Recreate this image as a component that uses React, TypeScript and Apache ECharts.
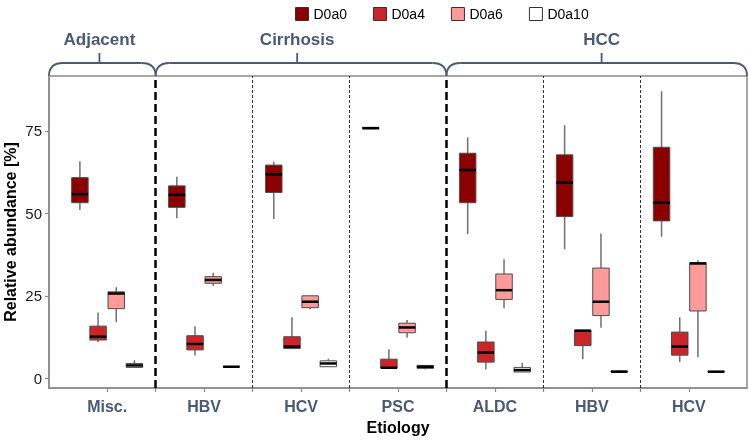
import React, { useEffect, useRef } from 'react';
import * as echarts from 'echarts';

// ---- data ----
const categories = ['Misc.', 'HBV', 'HCV', 'PSC', 'ALDC', 'HBV', 'HCV'];
const seriesNames = ['D0a0', 'D0a4', 'D0a6', 'D0a10'];
const seriesColors = ['#8B0000', '#CC2529', '#FF9A9A', '#FFFFFF'];

// each row: [min, q1, median, q3, max]
const d0a0 = [
  [51.0, 53.2, 55.8, 60.8, 65.8],
  [48.5, 51.8, 55.6, 58.3, 61.1],
  [48.3, 56.3, 61.8, 64.6, 65.6],
  [75.4, 75.6, 75.8, 76.0, 76.2],
  [43.7, 53.2, 63.1, 68.2, 73.0],
  [39.1, 49.0, 59.3, 67.7, 76.7],
  [42.9, 47.7, 53.2, 70.0, 87.0],
];
const d0a4 = [
  [10.9, 11.6, 12.6, 15.8, 19.9],
  [6.9, 8.6, 10.4, 12.9, 15.8],
  [9.0, 9.0, 9.6, 12.6, 18.5],
  [3.1, 3.1, 3.2, 5.8, 8.8],
  [2.7, 4.9, 7.8, 11.0, 14.4],
  [5.8, 9.9, 14.4, 14.6, 14.6],
  [4.9, 7.0, 9.6, 14.0, 18.5],
];
const d0a6 = [
  [17.0, 21.1, 25.7, 26.2, 27.6],
  [28.0, 28.8, 29.8, 30.8, 32.0],
  [20.9, 21.4, 23.2, 25.0, 25.2],
  [12.3, 13.8, 15.4, 16.7, 17.7],
  [21.2, 23.9, 26.7, 31.6, 36.1],
  [15.3, 19.0, 23.2, 33.4, 43.9],
  [6.4, 20.4, 34.8, 35.0, 35.8],
];
const d0a10 = [
  [3.3, 3.3, 3.9, 4.5, 5.5],
  [3.4, 3.4, 3.5, 3.6, 3.6],
  [3.5, 3.5, 4.5, 5.3, 5.9],
  [2.7, 3.0, 3.5, 3.9, 3.9],
  [1.9, 1.9, 2.5, 3.3, 4.7],
  [1.9, 1.9, 2.0, 2.2, 2.5],
  [1.9, 1.9, 2.0, 2.1, 2.1],
];
const yTicks = [0, 25, 50, 75];
const xMin = -0.6;
const xMax = 6.6;
const yMin = -2.94;
const yMax = 91.6;
const thickSeparators = [0.5, 3.5];
const thinSeparators = [1.5, 2.5, 4.5, 5.5];
const brackets = [
  { label: 'Adjacent', from: -0.6, to: 0.5, center: -0.08 },
  { label: 'Cirrhosis', from: 0.5, to: 3.5, center: 1.96 },
  { label: 'HCC', from: 3.5, to: 6.6, center: 5.1 },
];

// ---- style ----
const FONT = '"Liberation Sans", Arial, sans-serif';
const SLATE = '#4A5A75';
const AXIS_GRAY = '#8A8A8A';
const WHISKER = '#707070';
const BOX_STROKE = '#4D4D4D';
const SLOT = 0.1875;
const BOX_W = 0.17;
const GRID_TOP = 76;

export default function App() {
  const ref = useRef<HTMLDivElement>(null);
  useEffect(() => {
    document.body.style.margin = '0';
    const chart = echarts.init(ref.current!, null, { renderer: 'svg' });
    const allData = [d0a0, d0a4, d0a6, d0a10];
    const centerTicks = categories.map((_, i) => i);
    const allTicks = [...centerTicks, ...thickSeparators, ...thinSeparators].sort((a, b) => a - b);

    const series: any[] = allData.map((rows, si) => ({
      type: 'custom',
      name: seriesNames[si],
      itemStyle: { color: seriesColors[si] },
      encode: { x: 0, y: [1, 2, 3, 4, 5] },
      data: rows.map((r, ci) => [ci, ...r]),
      z: 3,
      renderItem: (params: any, api: any) => {
        const x = api.value(0) + (si - 1.5) * SLOT;
        const mn = api.value(1), q1 = api.value(2), md = api.value(3), q3 = api.value(4), mx = api.value(5);
        const c = (v: number) => api.coord([x, v]);
        const pMax = c(mx), pQ3 = c(q3), pMd = c(md), pQ1 = c(q1), pMin = c(mn);
        const hw = api.size([BOX_W, 0])[0] / 2;
        const cx = pMd[0];
        return {
          type: 'group',
          children: [
            { type: 'line', shape: { x1: cx, y1: pMax[1], x2: cx, y2: pQ3[1] }, style: { stroke: WHISKER, lineWidth: 1.5 } },
            { type: 'line', shape: { x1: cx, y1: pQ1[1], x2: cx, y2: pMin[1] }, style: { stroke: WHISKER, lineWidth: 1.5 } },
            {
              type: 'rect',
              shape: { x: cx - hw, y: pQ3[1], width: 2 * hw, height: Math.max(pQ1[1] - pQ3[1], 0.5) },
              style: { fill: seriesColors[si], stroke: BOX_STROKE, lineWidth: 1 },
            },
            { type: 'line', shape: { x1: cx - hw, y1: pMd[1], x2: cx + hw, y2: pMd[1] }, style: { stroke: '#000', lineWidth: 2.5 } },
          ],
        };
      },
    }));

    series[0].markLine = {
      silent: true,
      symbol: 'none',
      label: { show: false },
      animation: false,
      data: [
        ...thickSeparators.map((v) => ({ xAxis: v, lineStyle: { color: '#000', width: 2.5, type: [8, 4] } })),
        ...thinSeparators.map((v) => ({ xAxis: v, lineStyle: { color: '#333', width: 1, type: [3, 2] } })),
      ],
    };

    chart.setOption({
      animation: false,
      legend: {
        top: 2,
        left: 290,
        icon: 'rect',
        itemWidth: 13,
        itemHeight: 13,
        itemGap: 26,
        itemStyle: { borderColor: '#333', borderWidth: 1 },
        textStyle: { fontFamily: FONT, fontSize: 14, color: '#000' },
        data: seriesNames,
      },
      grid: {
        left: 49,
        right: 2,
        top: GRID_TOP,
        bottom: 55,
        show: true,
        borderColor: AXIS_GRAY,
        borderWidth: 1.5,
        containLabel: false,
        outerBoundsMode: 'none',
      },
      xAxis: {
        type: 'value',
        min: xMin,
        max: xMax,
        name: 'Etiology',
        nameLocation: 'middle',
        nameGap: 31,
        nameMoveOverlap: false,
        nameTextStyle: { fontFamily: FONT, fontSize: 16, fontWeight: 'bold', color: '#000' },
        axisLine: { show: true, onZero: false, lineStyle: { color: AXIS_GRAY, width: 1.5 } },
        axisTick: { show: true, length: 4, lineStyle: { color: AXIS_GRAY, width: 1.2 }, customValues: allTicks },
        axisLabel: {
          customValues: centerTicks,
          margin: 10,
          fontFamily: FONT,
          fontSize: 16,
          fontWeight: 'bold',
          color: SLATE,
          formatter: (v: number) => categories[Math.round(v)] ?? '',
        },
        splitLine: { show: false },
      },
      yAxis: {
        type: 'value',
        min: yMin,
        max: yMax,
        name: 'Relative abundance [%]',
        nameLocation: 'middle',
        nameGap: 31,
        nameMoveOverlap: false,
        nameTextStyle: { fontFamily: FONT, fontSize: 16, lineHeight: 16, fontWeight: 'bold', color: '#000' },
        axisLine: { show: true, onZero: false, lineStyle: { color: AXIS_GRAY, width: 1.5 } },
        axisTick: { show: true, length: 4, lineStyle: { color: AXIS_GRAY, width: 1.2 }, customValues: yTicks },
        axisLabel: { customValues: yTicks, margin: 7, fontFamily: FONT, fontSize: 15, color: '#1A1A1A' },
        splitLine: { show: false },
      },
      series,
    });

    // brackets above the panel
    const px = (v: number) => chart.convertToPixel({ xAxisIndex: 0 }, v) as number;
    const yB = GRID_TOP;
    const yH = GRID_TOP - 13;
    const yT = GRID_TOP - 23;
    const r = 14;
    const lineStyle = { stroke: SLATE, lineWidth: 1.8, fill: 'none' };
    const graphics: any[] = [];
    brackets.forEach((b) => {
      const xa = px(b.from), xb = px(b.to), xc = px(b.center);
      graphics.push(
        { type: 'bezierCurve', shape: { x1: xa, y1: yB, cpx1: xa, cpy1: yH, x2: xa + r, y2: yH }, style: lineStyle, silent: true },
        { type: 'line', shape: { x1: xa + r, y1: yH, x2: xb - r, y2: yH }, style: lineStyle, silent: true },
        { type: 'bezierCurve', shape: { x1: xb - r, y1: yH, cpx1: xb, cpy1: yH, x2: xb, y2: yB }, style: lineStyle, silent: true },
        { type: 'line', shape: { x1: xc, y1: yH, x2: xc, y2: yT }, style: lineStyle, silent: true },
        {
          type: 'text',
          x: xc,
          y: 39,
          silent: true,
          style: {
            text: b.label,
            fill: SLATE,
            font: `bold 17px ${FONT}`,
            textAlign: 'center',
            textVerticalAlign: 'middle',
          },
        }
      );
    });
    chart.setOption({ graphic: graphics });

    return () => chart.dispose();
  }, []);
  return <div ref={ref} style={{ position: 'fixed', left: 0, top: 0, width: 749, height: 443 }} />;
}
